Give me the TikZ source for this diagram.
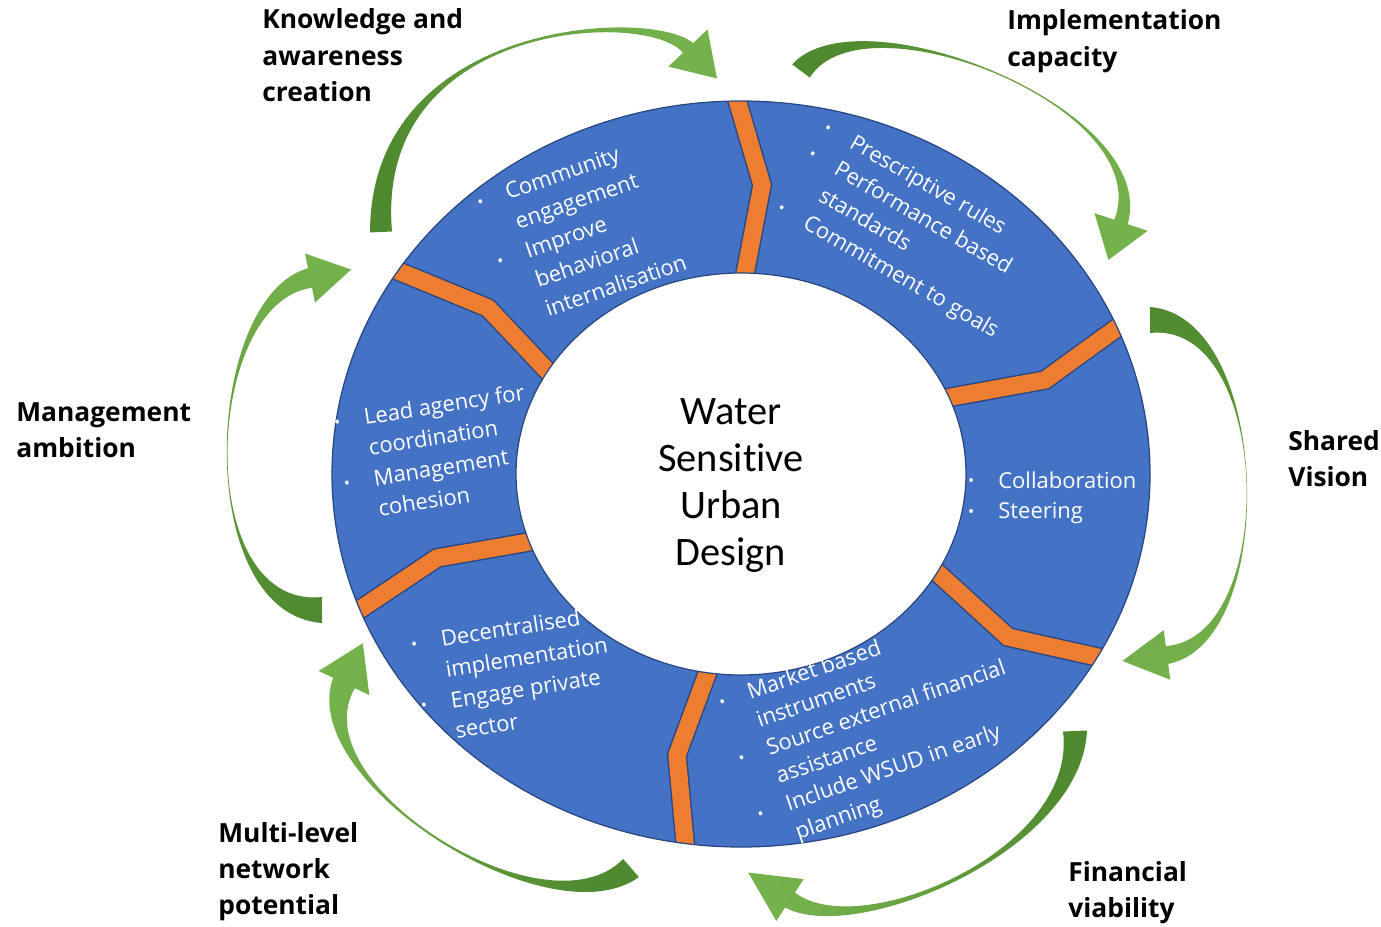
\documentclass[tikz,border=0pt]{standalone}
\usepackage{fontspec}
\setmainfont{Open Sans}
\newfontfamily\hubfont{Carlito}[Ligatures=NoCommon]
\usetikzlibrary{calc}

\definecolor{ringblue}{RGB}{68,114,196}
\definecolor{ringedge}{RGB}{40,70,130}
\definecolor{seamorange}{RGB}{237,125,49}
\definecolor{leaflight}{RGB}{118,178,76}
\definecolor{leafdark}{RGB}{80,138,48}

\newcommand{\itemdot}{\llap{\raisebox{0.05em}{\scalebox{0.75}{\textbullet}}\hspace{1.1em}}}
% stacked lines whose baseline is the first one
\newcommand{\leftstack}[1]{\begin{tabular}[t]{@{}l@{}}#1\end{tabular}}
\newcommand{\midstack}[1]{\begin{tabular}[t]{@{}c@{}}#1\end{tabular}}

% tapered curved arrow along the cubic (#1-0)..(#1-3)
% #2 tail half width, #3 waist offset, #4 neck half width,
% #5 head half width, #6 head length, #7 shading angle
\newcommand{\leafarrow}[7]{%
    \path ($(#1-0)!#2!90:(#1-1)$) coordinate (#1-l0)
          ($(#1-0)!#2!-90:(#1-1)$) coordinate (#1-r0)
          ($(#1-1)!#3!-90:(#1-0)$) coordinate (#1-l1)
          ($(#1-1)!#3!90:(#1-0)$) coordinate (#1-r1)
          ($(#1-2)!#3!90:(#1-3)$) coordinate (#1-l2)
          ($(#1-2)!#3!-90:(#1-3)$) coordinate (#1-r2)
          ($(#1-3)!#4!-90:(#1-2)$) coordinate (#1-l3)
          ($(#1-3)!#4!90:(#1-2)$) coordinate (#1-r3)
          ($(#1-3)!#5!-90:(#1-2)$) coordinate (#1-hl)
          ($(#1-3)!#5!90:(#1-2)$) coordinate (#1-hr)
          ($(#1-3)!#6!180:(#1-2)$) coordinate (#1-tip);
    \shade[leaf, shading angle=#7]
        (#1-l0) .. controls (#1-l1) and (#1-l2) .. (#1-l3)
        -- (#1-hl) -- (#1-tip) -- (#1-hr) -- (#1-r3)
        .. controls (#1-r2) and (#1-r1) .. (#1-r0) -- cycle;
}

\begin{document}
\begin{tikzpicture}[
    x=0.02cm, y=-0.02cm,
    ring edge/.style={draw=ringedge, line width=0.7pt},
    seam edge/.style={draw=ringedge, line width=11.4pt, line join=miter},
    seam/.style={draw=seamorange, line width=9.8pt, line join=miter},
    leaf/.style={top color=leafdark, bottom color=leaflight},
    theme/.style={font=\bfseries\fontsize{15}{20.6}\selectfont,
        anchor=base west, inner sep=0pt},
    ring list/.style={text=white, font=\fontsize{12.5}{17.6}\selectfont,
        anchor=base west, inner sep=0pt},
    hub text/.style={font=\hubfont\fontsize{23}{26.8}\selectfont,
        anchor=base, inner sep=0pt}
]
    \useasboundingbox (0,0) rectangle (1381,926);
    \fill[white] (0,0) rectangle (1381,926);

    \coordinate (hub) at (741,474);

    % the ring and its six orange seams
    \fill[ringblue] (hub) ellipse[x radius=409, y radius=373];
    \begin{scope}
        \clip (hub) ellipse[x radius=409, y radius=373];
        \foreach \xa/\ya/\xb/\yb/\xc/\yc in {
            733/86/762/185/742/290,
            1132/317/1045/380/935/400,
            929/565/1008/637/1115/661,
            713/658/677/755/687/863,
            540/540/437/558/350/616,
            386/266/488/308/555/379}{
            \draw[seam edge] (\xa,\ya) -- (\xb,\yb) -- (\xc,\yc);
            \draw[seam] (\xa,\ya) -- (\xb,\yb) -- (\xc,\yc);
        }
    \end{scope}
    \fill[white] (hub) ellipse[x radius=225, y radius=201];
    \draw[ring edge] (hub) ellipse[x radius=409, y radius=373];
    \draw[ring edge] (hub) ellipse[x radius=225, y radius=201];

    \node[hub text] (wsud) at (731,424) {\midstack{Water\\Sensitive\\Urban\\Design}};

    \node[ring list, rotate=19] (engage) at (508,200)
        {\leftstack{\itemdot Community\\engagement\\\itemdot Improve\\behavioral\\internalisation}};
    \node[ring list, rotate=-30] (rules) at (848,147)
        {\leftstack{\itemdot Prescriptive rules\\\itemdot Performance based\\standards\\\itemdot Commitment to goals}};
    \node[ring list] (collab) at (998,488)
        {\leftstack{\itemdot Collaboration\\\itemdot Steering}};
    \node[ring list, rotate=19, font=\fontsize{12.5}{16.8}\selectfont] (market) at (750,700)
        {\leftstack{\itemdot Market based\\instruments\\\itemdot Source external financial\\assistance\\\itemdot Include WSUD in early\\planning}};
    \node[ring list, rotate=9] (decentral) at (442,647)
        {\leftstack{\itemdot Decentralised\\implementation\\\itemdot Engage private\\sector}};
    \node[ring list, rotate=9] (agency) at (365,425)
        {\leftstack{\itemdot Lead agency for\\coordination\\\itemdot Management\\cohesion}};

    % curved arrows running clockwise round the ring
    \coordinate (know-0) at (381,232);  \coordinate (know-1) at (372,20);
    \coordinate (know-2) at (650,8);    \coordinate (know-3) at (688,48);
    \leafarrow{know}{0.22cm}{0.04cm}{0.14cm}{0.54cm}{0.84cm}{117}

    \coordinate (capa-0) at (801,71);   \coordinate (capa-1) at (861,-9);
    \coordinate (capa-2) at (1159,108); \coordinate (capa-3) at (1121,222);
    \leafarrow{capa}{0.22cm}{0.04cm}{0.14cm}{0.56cm}{0.8cm}{60}

    \coordinate (visn-0) at (1150,320); \coordinate (visn-1) at (1272,318);
    \coordinate (visn-2) at (1280,640); \coordinate (visn-3) at (1167,655);
    \leafarrow{visn}{0.26cm}{0.04cm}{0.18cm}{0.5cm}{0.9cm}{0}

    \coordinate (fina-0) at (1075,731); \coordinate (fina-1) at (1080,851);
    \coordinate (fina-2) at (857,944);  \coordinate (fina-3) at (790,900);
    \leafarrow{fina}{0.24cm}{0.04cm}{0.18cm}{0.5cm}{1cm}{-66}

    \coordinate (netw-0) at (631,868);  \coordinate (netw-1) at (548,940);
    \coordinate (netw-2) at (297,782);  \coordinate (netw-3) at (344,683);
    \leafarrow{netw}{0.24cm}{0.05cm}{0.24cm}{0.56cm}{0.88cm}{-129}

    \coordinate (ambi-0) at (322,610);  \coordinate (ambi-1) at (192,612);
    \coordinate (ambi-2) at (203,300);  \coordinate (ambi-3) at (310,278);
    \leafarrow{ambi}{0.26cm}{0.04cm}{0.2cm}{0.5cm}{0.84cm}{176}

    \node[theme] (knowledge) at (262,29) {\leftstack{Knowledge and\\awareness\\creation}};
    \node[theme] (capacity) at (1007,30) {\leftstack{Implementation\\capacity}};
    \node[theme] (vision) at (1288,450) {\leftstack{Shared\\Vision}};
    \node[theme] (finance) at (1068,881) {\leftstack{Financial\\viability}};
    \node[theme] (network) at (218,842) {\leftstack{Multi-level\\network\\potential}};
    \node[theme] (ambition) at (16,421) {\leftstack{Management\\ambition}};

\end{tikzpicture}
\end{document}
